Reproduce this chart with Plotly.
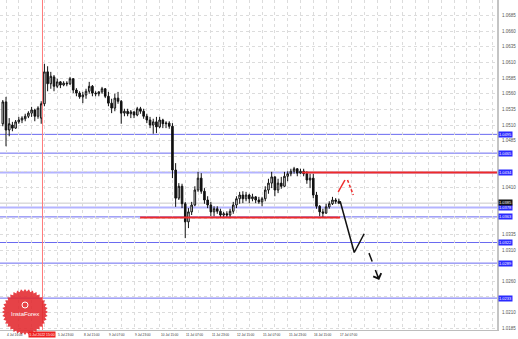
import numpy as np
import plotly.graph_objects as go

# ---------------- data (H2-style candles, index = bar number) ----------------
bars = list(range(106))
opens = [1.0512, 1.0547, 1.0502, 1.0510, 1.0505, 1.0515, 1.0518, 1.0520, 1.0524, 1.0529,
         1.0534, 1.0524, 1.0521, 1.0544, 1.0595, 1.0576, 1.0587, 1.0572, 1.0579, 1.0574,
         1.0577, 1.0576, 1.0584, 1.0566, 1.0561, 1.0555, 1.0558, 1.0564, 1.0572, 1.0561,
         1.0560, 1.0563, 1.0568, 1.0556, 1.0545, 1.0537, 1.0553, 1.0548, 1.0529, 1.0532,
         1.0528, 1.0531, 1.0526, 1.0536, 1.0532, 1.0524, 1.0518, 1.0510, 1.0515, 1.0507,
         1.0518, 1.0512, 1.0513, 1.0508, 1.0438, 1.0393, 1.0412, 1.0384, 1.0355, 1.0371,
         1.0382, 1.0406, 1.0425, 1.0404, 1.0390, 1.0382, 1.0371, 1.0376, 1.0372, 1.0366,
         1.0368, 1.0366, 1.0372, 1.0382, 1.0392, 1.0398, 1.0392, 1.0398, 1.0392, 1.0395,
         1.0390, 1.0387, 1.0392, 1.0406, 1.0417, 1.0427, 1.0406, 1.0417, 1.0412, 1.0428,
         1.0432, 1.0436, 1.0440, 1.0433, 1.0436, 1.0432, 1.0422, 1.0425, 1.0398, 1.0380,
         1.0371, 1.0369, 1.0379, 1.0384, 1.0390, 1.0388]
highs = [1.0550, 1.0555, 1.0521, 1.0515, 1.0518, 1.0523, 1.0524, 1.0528, 1.0532, 1.0539,
         1.0536, 1.0540, 1.0548, 1.0608, 1.0604, 1.0595, 1.0590, 1.0584, 1.0580, 1.0580,
         1.0580, 1.0587, 1.0585, 1.0569, 1.0564, 1.0563, 1.0568, 1.0579, 1.0574, 1.0564,
         1.0564, 1.0571, 1.0569, 1.0563, 1.0552, 1.0560, 1.0563, 1.0550, 1.0536, 1.0536,
         1.0534, 1.0532, 1.0539, 1.0539, 1.0536, 1.0528, 1.0523, 1.0520, 1.0523, 1.0523,
         1.0520, 1.0516, 1.0516, 1.0513, 1.0449, 1.0417, 1.0416, 1.0387, 1.0377, 1.0387,
         1.0412, 1.0435, 1.0433, 1.0409, 1.0396, 1.0387, 1.0380, 1.0380, 1.0376, 1.0371,
         1.0372, 1.0376, 1.0387, 1.0396, 1.0403, 1.0404, 1.0403, 1.0400, 1.0400, 1.0396,
         1.0395, 1.0395, 1.0412, 1.0424, 1.0435, 1.0428, 1.0424, 1.0427, 1.0435, 1.0436,
         1.0440, 1.0443, 1.0441, 1.0440, 1.0440, 1.0436, 1.0432, 1.0432, 1.0403, 1.0382,
         1.0376, 1.0384, 1.0388, 1.0395, 1.0393, 1.0392]
lows = [1.0508, 1.0476, 1.0492, 1.0500, 1.0504, 1.0512, 1.0513, 1.0516, 1.0521, 1.0523,
        1.0516, 1.0520, 1.0512, 1.0540, 1.0564, 1.0568, 1.0564, 1.0569, 1.0569, 1.0572,
        1.0572, 1.0574, 1.0561, 1.0556, 1.0552, 1.0545, 1.0552, 1.0560, 1.0556, 1.0556,
        1.0556, 1.0560, 1.0553, 1.0540, 1.0529, 1.0532, 1.0544, 1.0512, 1.0524, 1.0524,
        1.0521, 1.0521, 1.0524, 1.0528, 1.0520, 1.0513, 1.0505, 1.0496, 1.0497, 1.0505,
        1.0505, 1.0505, 1.0504, 1.0425, 1.0379, 1.0390, 1.0377, 1.0329, 1.0345, 1.0366,
        1.0380, 1.0403, 1.0400, 1.0384, 1.0377, 1.0364, 1.0364, 1.0368, 1.0361, 1.0361,
        1.0361, 1.0361, 1.0368, 1.0377, 1.0384, 1.0385, 1.0388, 1.0385, 1.0388, 1.0385,
        1.0384, 1.0380, 1.0388, 1.0400, 1.0409, 1.0396, 1.0401, 1.0408, 1.0411, 1.0420,
        1.0428, 1.0432, 1.0428, 1.0432, 1.0428, 1.0416, 1.0409, 1.0393, 1.0376, 1.0364,
        1.0361, 1.0368, 1.0376, 1.0382, 1.0384, 1.0384]
closes = [1.0547, 1.0502, 1.0512, 1.0505, 1.0515, 1.0518, 1.0521, 1.0524, 1.0529, 1.0534,
          1.0524, 1.0537, 1.0544, 1.0595, 1.0576, 1.0588, 1.0572, 1.0579, 1.0574, 1.0577,
          1.0576, 1.0584, 1.0566, 1.0561, 1.0555, 1.0558, 1.0564, 1.0572, 1.0561, 1.0560,
          1.0563, 1.0568, 1.0556, 1.0545, 1.0537, 1.0553, 1.0548, 1.0529, 1.0532, 1.0528,
          1.0531, 1.0526, 1.0536, 1.0532, 1.0524, 1.0518, 1.0510, 1.0515, 1.0507, 1.0518,
          1.0512, 1.0513, 1.0508, 1.0438, 1.0393, 1.0412, 1.0384, 1.0355, 1.0371, 1.0382,
          1.0406, 1.0425, 1.0404, 1.0390, 1.0382, 1.0371, 1.0376, 1.0372, 1.0366, 1.0368,
          1.0366, 1.0372, 1.0382, 1.0392, 1.0398, 1.0392, 1.0398, 1.0392, 1.0395, 1.0390,
          1.0387, 1.0392, 1.0406, 1.0417, 1.0427, 1.0406, 1.0417, 1.0412, 1.0428, 1.0432,
          1.0436, 1.0440, 1.0433, 1.0436, 1.0432, 1.0422, 1.0425, 1.0398, 1.0380, 1.0371,
          1.0369, 1.0379, 1.0384, 1.0390, 1.0388, 1.0385]

price_tick_labels = ["1.0710", "1.0685", "1.0660", "1.0635", "1.0610", "1.0585", "1.0560",
                     "1.0535", "1.0510", "1.0485", "1.0460", "1.0435", "1.0410", "1.0385",
                     "1.0360", "1.0335", "1.0310", "1.0285", "1.0260", "1.0235", "1.0210",
                     "1.0185"]

time_label_bars = [1, 17, 25, 33, 41, 49, 57, 65, 73, 81, 89, 97, 105]
time_labels = ["4 Jul 16:00", "5 Jul 23:00", "8 Jul 15:00", "9 Jul 07:00", "9 Jul 23:00",
               "10 Jul 15:00", "11 Jul 07:00", "11 Jul 23:00", "12 Jul 15:00", "15 Jul 07:00",
               "15 Jul 23:00", "16 Jul 15:00", "17 Jul 07:00"]

level_prices = [1.0495, 1.0465, 1.0434, 1.0378, 1.0363, 1.0322, 1.0289, 1.0233]
level_labels = ["1.0495", "1.0465", "1.0434", "1.0378", "1.0363", "1.0322", "1.0289", "1.0233"]
current_price = 1.0385
current_label = "1.0385"

resistance_price = 1.0434
resistance_from_bar = 93.5
support_price = 1.0362
support_bars = [42.9, 105.4]

marker_bar = 12.4
marker_label = "5 Jul 2022 15:00"

# hand-drawn forecast arrows (bar, price)
black_path_x = [105.4, 109.8, 112.9]
black_path_y = [1.0388, 1.0306, 1.0336]
black_dash_x = [114.4, 117.6]
black_dash_y = [1.0305, 1.0262]
red_path_x = [104.8, 106.9]
red_path_y = [1.0403, 1.0422]
red_dash_x = [107.7, 109.5]
red_dash_y = [1.0422, 1.0398]

# ---------------- figure ----------------
X_MIN, X_MAX = -0.875, 154.4
Y_MIN, Y_MAX = 1.0182, 1.0710

# scale labels hidden where a level label sits on top of them (as in the terminal)
label_prices = level_prices + [current_price]
tick_vals = [float(t) for t in price_tick_labels]
tick_text = [t if min(abs(float(t) - p) for p in label_prices) > 0.0005 else ""
             for t in price_tick_labels]

fig = go.Figure()

fig.add_trace(go.Candlestick(
    x=bars, open=opens, high=highs, low=lows, close=closes,
    increasing=dict(line=dict(color="#111111", width=1), fillcolor="#ffffff"),
    decreasing=dict(line=dict(color="#111111", width=1), fillcolor="#111111"),
    whiskerwidth=0, showlegend=False, hoverinfo="skip"))

shapes = []
thick = {1.0434, 1.0378}
for p in level_prices:
    if p in thick:
        shapes.append(dict(type="line", xref="paper", x0=0, x1=1, yref="y", y0=p, y1=p,
                           line=dict(color="#b4b4ff", width=2), layer="below"))
    else:
        shapes.append(dict(type="line", xref="paper", x0=0, x1=1, yref="y", y0=p, y1=p,
                           line=dict(color="#6a6af0", width=1), layer="below"))
# current price line
shapes.append(dict(type="line", xref="paper", x0=0, x1=1, yref="y", y0=current_price,
                   y1=current_price, line=dict(color="#c8c8c8", width=1), layer="below"))
# red resistance / support
shapes.append(dict(type="line", xref="x", x0=resistance_from_bar, x1=X_MAX, yref="y",
                   y0=resistance_price, y1=resistance_price, line=dict(color="#ee2a2a", width=2)))
shapes.append(dict(type="line", xref="x", x0=support_bars[0], x1=support_bars[1], yref="y",
                   y0=support_price, y1=support_price, line=dict(color="#ee2a2a", width=2)))
# red vertical marker line
shapes.append(dict(type="line", xref="x", x0=marker_bar, x1=marker_bar, yref="paper",
                   y0=0, y1=1, line=dict(color="#ff7b7b", width=1)))

# InstaForex-like badge (serrated circle)
n_teeth = 36
ang = np.linspace(0, 2 * np.pi, 2 * n_teeth, endpoint=False)
rad = np.where(np.arange(2 * n_teeth) % 2 == 0, 23.0, 20.5)
pts = [f"{r*np.cos(a):.2f},{r*np.sin(a):.2f}" for r, a in zip(rad, ang)]
gear_path = "M" + " L".join(pts) + " Z"
badge_x = 25 / 497
badge_y = (330 - 312) / 330
shapes.append(dict(type="path", path=gear_path, xref="paper", yref="paper",
                   xsizemode="pixel", ysizemode="pixel", xanchor=badge_x, yanchor=badge_y,
                   fillcolor="rgba(226,40,46,0.88)", line=dict(width=0), layer="above"))
shapes.append(dict(type="circle", xref="paper", yref="paper",
                   xsizemode="pixel", ysizemode="pixel", xanchor=badge_x, yanchor=badge_y,
                   x0=-3, x1=3, y0=4, y1=10, fillcolor="rgba(0,0,0,0)",
                   line=dict(color="white", width=1), layer="above"))

# forecast paths
fig.add_trace(go.Scatter(x=black_path_x, y=black_path_y, mode="lines",
                         line=dict(color="#111111", width=1.5), hoverinfo="skip", showlegend=False))
fig.add_trace(go.Scatter(x=black_dash_x, y=black_dash_y, mode="lines",
                         line=dict(color="#111111", width=1.5, dash="dash"), hoverinfo="skip",
                         showlegend=False))
fig.add_trace(go.Scatter(x=red_path_x, y=red_path_y, mode="lines",
                         line=dict(color="#ee2a2a", width=1.5), hoverinfo="skip", showlegend=False))
fig.add_trace(go.Scatter(x=red_dash_x, y=red_dash_y, mode="lines",
                         line=dict(color="#ee2a2a", width=1.5, dash="3px,2px"), hoverinfo="skip",
                         showlegend=False))

annotations = []


def head(xs, ys, color):
    x1, y1 = xs[-1], ys[-1]
    x0, y0 = xs[-2], ys[-2]
    annotations.append(dict(x=x1, y=y1, ax=x1 - 0.2 * (x1 - x0), ay=y1 - 0.2 * (y1 - y0),
                            xref="x", yref="y", axref="x", ayref="y", text="",
                            showarrow=True, arrowhead=4, arrowsize=1.1, arrowwidth=1.5,
                            arrowcolor=color))


head(black_path_x, black_path_y, "#111111")
head(black_dash_x, black_dash_y, "#111111")
head(red_dash_x, red_dash_y, "#ee2a2a")

# price level labels on the right scale
for p, t in zip(level_prices, level_labels):
    annotations.append(dict(x=1, xref="paper", xanchor="left", xshift=1, y=p, yref="y",
                            text=t, showarrow=False, bgcolor="#2a2aff", borderpad=0,
                            font=dict(size=4, color="white", family="Liberation Sans")))
annotations.append(dict(x=1, xref="paper", xanchor="left", xshift=1, y=current_price, yref="y",
                        yshift=0.5, text=current_label, showarrow=False, bgcolor="#111111",
                        borderpad=0, font=dict(size=4, color="white", family="Liberation Sans")))

# time labels
for b, t in zip(time_label_bars, time_labels):
    annotations.append(dict(x=b, xref="x", xanchor="left", xshift=-1, y=0, yref="paper",
                            yanchor="top", yshift=-1, text=t, showarrow=False,
                            font=dict(size=3.2, color="#333333", family="Liberation Sans")))
annotations.append(dict(x=marker_bar, xref="x", xanchor="center", y=0, yref="paper",
                        yanchor="top", yshift=-1, text=marker_label, showarrow=False,
                        bgcolor="#ee2020", borderpad=0.5,
                        font=dict(size=3.4, color="white", family="Liberation Sans")))

# badge text
annotations.append(dict(x=badge_x, y=badge_y, xref="paper", yref="paper", xanchor="center",
                        yanchor="middle", yshift=-2, text="InstaForex", showarrow=False,
                        font=dict(size=6, color="white", family="Liberation Sans")))

fig.update_layout(
    width=518, height=339,
    margin=dict(l=0, r=21, t=0, b=9),
    paper_bgcolor="white", plot_bgcolor="white",
    shapes=shapes, annotations=annotations,
    showlegend=False,
    xaxis=dict(range=[X_MIN, X_MAX], rangeslider=dict(visible=False),
               tickmode="array", tickvals=list(range(1, 155, 4)), showticklabels=False,
               ticks="", showgrid=True, gridcolor="#dcdcdc", griddash="dot", gridwidth=1,
               zeroline=False, showline=True, linecolor="#bdbdbd", linewidth=1,
               automargin=False, fixedrange=True),
    yaxis=dict(range=[Y_MIN, Y_MAX], side="right", tickmode="array",
               tickvals=tick_vals, ticktext=tick_text,
               tickfont=dict(size=4.5, color="#555555", family="Liberation Sans"),
               ticks="", ticklabelstandoff=2, showgrid=True, gridcolor="#dcdcdc",
               griddash="dot", gridwidth=1, zeroline=False, showline=True,
               linecolor="#c4c4c4", linewidth=2, automargin=False, fixedrange=True),
)

fig.write_html("out.html")
